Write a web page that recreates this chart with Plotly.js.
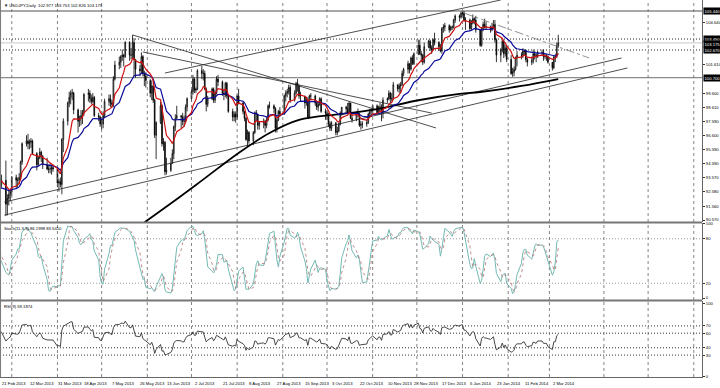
<!DOCTYPE html>
<html><head><meta charset="utf-8">
<script src="https://cdn.plot.ly/plotly-3.0.1.min.js"></script>
<style>html,body{margin:0;padding:0;background:#fff;}#chart{width:720px;height:388px;}</style>
</head><body><div id="chart"></div>
<script>
// ---------------- DATA ----------------
const firstDay = '2013-01-28', lastDay = '2014-03-07';   // daily bars, weekdays
// one row per week (Mon..Fri)
const open = [
90.8,90.9,90.6,91.1,91.7, 92.7,92.3,93.6,93.6,93.6, 92.6,94.2,93.5,93.4,92.8, 93.5,93.9,93.6,93.5,93.1,
93.4,91.7,92.1,92.4,92.6, 93.6,93.4,93.4,93.6,94.7, 96.0,96.2,96.0,96.1,96.2, 95.3,94.5,95.0,95.4,95.1,
94.5,94.2,94.2,94.2,94.3, 94.2,93.2,93.3,93.1,96.3, 97.6,98.9,99.3,99.6,99.6, 98.4,97.6,97.8,98.0,98.2,
99.5,99.6,99.2,99.0,99.3, 98.0,97.9,97.4,97.4,98.0, 99.0,99.2,98.9,98.8,100.6, 101.6,101.8,102.2,102.3,102.2,
103.2,102.3,102.3,103.2,102.0, 101.3,101.2,102.2,101.0,100.8, 100.5,99.6,100.1,99.1,96.6, 97.5,98.7,96.0,96.1,94.0,
94.1,94.6,95.3,97.2,97.8, 98.0,97.9,97.6,97.6,98.6, 99.2,99.7,100.6,99.8,99.9, 101.2,101.0,101.0,99.9,98.8,
99.2,99.9,99.1,99.6,100.6, 100.4,99.6,99.5,100.3,99.4, 98.3,97.9,98.1,97.9,99.4, 98.9,98.3,97.8,96.3,96.8,
96.2,96.8,98.2,98.1,97.3, 97.5,97.6,97.3,97.7,98.7, 98.7,98.5,97.1,97.7,98.3, 98.1,99.4,99.6,99.7,100.0,
99.1,99.6,100.3,100.1,99.4, 99.4,98.9,99.1,97.9,99.4, 99.4,98.9,98.6,98.8,99.2, 98.3,98.2,98.0,97.4,97.1,
97.5,96.8,96.9,97.4,98.2, 98.6,98.5,98.2,98.9,97.8, 97.7,98.2,98.1,97.3,97.4, 97.4,97.5,98.1,98.3,98.4,
98.7,98.2,98.6,98.6,98.2, 99.1,99.2,99.6,99.2,99.2, 100.2,99.9,100.1,100.2,101.0, 101.3,101.7,101.3,102.1,101.7,
102.4,103.0,102.4,102.3,101.8, 102.9,103.3,102.8,102.7,103.4, 103.2,102.9,102.6,104.2,104.3, 104.4,104.1,104.3,104.3,104.8,
105.1,105.0,105.3,105.3,104.8, 104.8,104.2,104.6,104.9,104.8, 104.1,103.0,104.2,104.5,104.3, 104.3,104.1,104.3,104.5,103.4,
102.3,102.7,103.3,102.4,102.8, 102.0,101.0,101.1,101.3,102.1, 102.3,102.3,102.6,102.6,102.0, 101.8,101.9,102.4,102.3,102.2,
102.5,102.5,102.2,102.2,102.2, 101.8,101.4,102.2,102.2,102.977];
const high = [
91.2,91.0,91.4,91.8,92.8, 92.8,93.6,94.0,94.1,93.9, 94.5,94.4,93.8,93.6,93.6, 94.2,94.1,94.0,93.6,93.8,
94.8,92.4,92.7,92.8,93.7, 93.8,93.6,93.9,94.8,96.1, 96.6,96.7,96.3,96.4,96.3, 95.4,95.1,95.7,95.5,95.2,
95.0,94.5,94.6,94.5,94.4, 94.2,93.5,93.6,96.4,97.8, 99.0,99.7,99.8,99.9,99.7, 98.5,98.0,98.4,98.4,99.6,
99.9,99.8,99.5,99.6,99.4, 98.2,98.0,97.8,98.3,99.2, 99.5,99.5,99.1,100.8,101.9, 102.2,102.3,102.7,102.4,103.3,
103.3,102.8,103.74,103.5,102.0, 101.6,102.5,102.3,101.2,101.1, 100.6,100.5,100.2,99.2,97.6, 99.0,98.8,96.4,96.2,95.0,
95.0,95.6,97.3,98.1,98.7, 98.0,98.2,98.0,98.8,99.3, 99.9,100.9,100.7,100.0,101.3, 101.54,101.3,101.2,100.0,99.4,
100.0,100.0,99.8,100.8,100.9, 100.5,99.9,100.4,100.4,99.5, 98.5,98.3,98.3,99.5,99.9, 99.0,98.3,97.9,97.0,96.9,
96.9,98.3,98.4,98.1,97.6, 97.8,97.7,97.9,98.8,99.0, 98.8,98.6,97.8,98.4,98.6, 99.5,99.8,99.9,100.2,100.2,
99.8,100.4,100.6,100.2,99.7, 99.4,99.3,99.3,99.5,99.6, 99.5,99.0,98.9,99.3,99.3, 98.5,98.4,98.2,97.6,97.6,
97.5,97.2,97.5,98.3,98.6, 98.7,98.9,99.0,98.9,98.1, 98.3,98.5,98.2,97.6,97.6, 97.7,98.2,98.5,98.5,98.8,
98.8,98.7,98.9,98.8,99.3, 99.3,99.8,99.7,99.6,100.4, 100.2,100.3,100.4,101.2,101.4, 101.9,101.7,102.2,102.3,102.5,
103.4,103.4,102.6,102.4,103.2, 103.4,103.4,103.0,103.5,103.9, 103.3,103.1,104.3,104.5,104.6, 104.5,104.4,104.4,104.9,105.2,
105.2,105.4,105.4,105.44,105.0, 104.9,104.8,105.2,105.0,105.1, 104.1,104.3,104.7,104.9,104.7, 104.4,104.6,104.8,104.8,103.5,
102.8,103.4,103.4,103.0,103.0, 102.3,101.4,101.5,102.2,102.6, 102.5,102.8,102.7,102.7,102.1, 102.2,102.7,102.6,102.4,102.6,
102.7,102.7,102.4,102.4,102.3, 101.8,102.2,102.4,103.2,103.753];
const low = [
90.2,90.3,90.4,90.6,91.6, 91.9,92.1,93.2,93.3,92.3, 92.3,93.2,92.9,92.3,92.2, 93.4,93.4,93.2,92.7,92.9,
90.85,90.9,91.6,91.9,92.3, 92.8,92.9,93.1,93.5,94.5, 95.8,95.6,95.6,95.7,95.2, 94.1,94.4,94.9,94.7,94.2,
94.1,93.9,93.9,93.8,94.0, 92.9,92.6,92.9,92.4,95.4, 97.3,98.6,98.8,99.1,98.1, 96.8,97.2,97.3,97.4,98.0,
99.0,98.9,98.8,98.9,97.9, 97.6,97.2,97.0,97.1,97.9, 98.7,98.6,98.6,98.6,100.5, 101.3,101.4,101.9,101.5,102.1,
101.9,102.0,102.1,100.8,100.7, 100.8,101.0,100.8,100.1,100.0, 99.3,99.1,98.9,96.4,94.9, 97.4,95.8,95.5,93.75,93.8,
94.0,94.6,94.9,96.9,97.7, 97.1,97.3,97.2,97.5,98.3, 99.0,99.5,99.6,99.6,99.8, 100.6,100.5,99.8,98.3,98.6,
99.1,98.9,98.9,99.5,100.1, 99.4,99.1,99.3,99.2,98.2, 97.6,97.6,97.5,97.7,98.8, 98.1,97.6,96.2,95.8,96.0,
95.9,96.7,97.6,97.0,97.0, 97.1,96.8,97.1,97.6,98.5, 98.2,96.8,96.8,97.6,97.9, 98.1,99.0,99.3,99.5,98.9,
99.0,99.5,99.7,99.2,99.0, 98.5,98.7,97.8,97.8,99.1, 98.7,98.4,98.3,98.7,98.2, 97.7,97.7,97.2,96.9,96.9,
96.6,96.6,96.8,97.3,98.0, 98.2,98.1,98.1,97.8,97.5, 97.6,97.9,97.2,97.0,97.1, 97.2,97.4,97.9,97.9,98.2,
98.1,98.1,98.4,97.6,97.8, 98.9,99.1,98.9,99.0,99.1, 99.7,99.6,99.6,100.1,100.8, 101.0,101.0,101.2,101.6,101.6,
102.3,102.3,101.8,101.6,101.7, 102.8,102.6,102.4,102.6,103.0, 102.6,102.5,102.4,103.9,104.0, 103.9,104.0,104.1,104.2,104.6,
104.7,104.9,105.1,104.7,104.1, 104.0,104.1,104.5,104.5,103.9, 102.9,102.9,104.0,104.2,104.1, 103.9,104.0,104.2,103.2,101.8,
101.8,102.5,102.1,102.2,101.8, 100.9,100.76,100.8,101.2,101.5, 102.0,102.1,102.3,101.8,101.5, 101.6,101.7,102.0,101.8,102.1,
102.3,101.9,102.0,101.9,101.7, 101.2,101.3,101.8,102.1,102.826];
const close = [
90.9,90.6,91.1,91.7,92.7, 92.3,93.6,93.6,93.6,92.6, 94.2,93.5,93.4,92.8,93.5, 93.9,93.6,93.5,93.1,93.4,
91.7,92.1,92.4,92.6,93.6, 93.4,93.4,93.6,94.7,96.0, 96.2,96.0,96.1,96.2,95.3, 94.5,95.0,95.4,95.1,94.5,
94.2,94.2,94.2,94.3,94.2, 93.2,93.3,93.1,96.3,97.6, 98.9,99.3,99.6,99.6,98.4, 97.6,97.8,98.0,98.2,99.5,
99.6,99.2,99.0,99.3,98.0, 97.9,97.4,97.4,98.0,99.0, 99.2,98.9,98.8,100.6,101.6, 101.8,102.2,102.3,102.2,103.2,
102.3,102.3,103.2,102.0,101.3, 101.2,102.2,101.0,100.8,100.5, 99.6,100.1,99.1,96.6,97.5, 98.7,96.0,96.1,94.0,94.1,
94.6,95.3,97.2,97.8,98.0, 97.9,97.6,97.6,98.6,99.2, 99.7,100.6,99.8,99.9,101.2, 101.0,101.0,99.9,98.8,99.2,
99.9,99.1,99.6,100.6,100.4, 99.6,99.5,100.3,99.4,98.3, 97.9,98.1,97.9,99.4,98.9, 98.3,97.8,96.3,96.8,96.2,
96.8,98.2,98.1,97.3,97.5, 97.6,97.3,97.7,98.7,98.7, 98.5,97.1,97.7,98.3,98.1, 99.4,99.6,99.7,100.0,99.1,
99.6,100.3,100.1,99.4,99.4, 98.9,99.1,97.9,99.4,99.4, 98.9,98.6,98.8,99.2,98.3, 98.2,98.0,97.4,97.1,97.5,
96.8,96.9,97.4,98.2,98.6, 98.5,98.2,98.9,97.8,97.7, 98.2,98.1,97.3,97.4,97.4, 97.5,98.1,98.3,98.4,98.7,
98.2,98.6,98.6,98.2,99.1, 99.2,99.6,99.2,99.2,100.2, 99.9,100.1,100.2,101.0,101.3, 101.7,101.3,102.1,101.7,102.4,
103.0,102.4,102.3,101.8,102.9, 103.3,102.8,102.7,103.4,103.2, 102.9,102.6,104.2,104.3,104.4, 104.1,104.3,104.3,104.8,105.1,
105.0,105.3,105.3,104.8,104.8, 104.2,104.6,104.9,104.8,104.1, 103.0,104.2,104.5,104.3,104.3, 104.1,104.3,104.5,103.4,102.3,
102.7,103.3,102.4,102.8,102.0, 101.0,101.1,101.3,102.1,102.3, 102.3,102.6,102.6,102.0,101.8, 101.9,102.4,102.3,102.2,102.5,
102.5,102.2,102.2,102.2,101.8, 101.4,102.2,102.2,102.977,103.175];

// black slow moving average
const slowMaDates = ['2013-05-30','2013-06-03','2013-07-04','2013-08-02','2013-08-23','2013-09-12','2013-10-10','2013-11-01','2013-12-03','2013-12-30','2014-01-13','2014-02-10','2014-03-07'];
const slowMaVals  = [90.40, 90.69, 93.06, 95.34, 96.76, 97.69, 98.11, 98.40, 99.11, 99.54, 99.68, 100.11, 100.60];

// hand-drawn trend lines (start/end date, start/end price)
const trendDates = [['2013-05-22','2013-12-14'],['2013-05-29','2013-12-11'],['2013-06-13','2014-01-27'],['2013-02-24','2014-04-19'],['2013-02-24','2014-04-23']];
const trendPrices = [[103.74,97.12],[102.53,98.18],[101.03,106.23],[91.85,102.10],[90.92,101.39]];
const dashDates = ['2014-01-02','2014-03-28'];
const dashPrices = [105.30, 102.10];

// horizontal levels
const levelPrices = [105.44, 103.45, 102.67, 100.70];
const levelLabels = ['105.440','103.450','102.670','100.700'];
const currentPrice = 103.175;

// axis ticks
const priceTicks = [90.570,91.560,92.580,93.570,94.590,95.590,96.600,97.590,98.610,99.600,101.610,104.640];
const stochTicks = [0,20,80,100];
const rsiTicks = [0,30,40,60,70,100];
const dateLabelDates = ['2013-02-21','2013-03-12','2013-03-31','2013-04-18','2013-05-07','2013-05-26','2013-06-13','2013-07-02','2013-07-21','2013-08-08','2013-08-27','2013-09-15','2013-10-03','2013-10-22','2013-11-10','2013-11-28','2013-12-17','2014-01-05','2014-01-23','2014-02-11','2014-03-02'];
const dateLabelTexts = ['21 Feb 2013','12 Mar 2013','31 Mar 2013','18 Apr 2013','7 May 2013','26 May 2013','13 Jun 2013','2 Jul 2013','21 Jul 2013','8 Aug 2013','27 Aug 2013','15 Sep 2013','3 Oct 2013','22 Oct 2013','10 Nov 2013','28 Nov 2013','17 Dec 2013','5 Jan 2014','23 Jan 2014','11 Feb 2014','2 Mar 2014'];

// ---------------- HELPERS ----------------
function tradingDays(a, b){
  const out=[]; let d=new Date(a+'T00:00:00Z'); const e=new Date(b+'T00:00:00Z');
  while(d<=e){ const w=d.getUTCDay(); if(w!==0&&w!==6) out.push(d.toISOString().slice(0,10)); d=new Date(d.getTime()+86400000); }
  return out;
}
const dates = tradingDays(firstDay, lastDay);
function ema(arr,n){const k=2/(n+1);const o=[];let e=arr[0];arr.forEach((v,i)=>{e=i?v*k+e*(1-k):v;o.push(e);});return o;}
function stoch(h,l,c,kp,slow,dp){
  const K=[],D=[];
  for(let i=0;i<c.length;i++){
    if(i<kp+slow-2){K.push(null);continue;}
    let num=0,den=0;
    for(let j=i-slow+1;j<=i;j++){let hh=-1e9,ll=1e9;for(let m=j-kp+1;m<=j;m++){hh=Math.max(hh,h[m]);ll=Math.min(ll,l[m]);}num+=c[j]-ll;den+=hh-ll;}
    K.push(den?100*num/den:50);
  }
  for(let i=0;i<K.length;i++){ if(i<dp-1||K[i-dp+1]==null){D.push(null);continue;} let s=0;for(let j=i-dp+1;j<=i;j++)s+=K[j];D.push(s/dp);}
  return [K,D];
}
function rsi(c,n){
  const o=[null];let ag=0,al=0;
  for(let i=1;i<c.length;i++){const ch=c[i]-c[i-1];const g=Math.max(ch,0),ls=Math.max(-ch,0);
    if(i<=n){ag+=g/n;al+=ls/n;o.push(i===n?100-100/(1+ag/(al||1e-9)):null);}
    else{ag=(ag*(n-1)+g)/n;al=(al*(n-1)+ls)/n;o.push(100-100/(1+ag/(al||1e-9)));}}
  return o;
}
const fastMa = ema(close,9), midMa = ema(close,21);
const [stK, stD] = stoch(high,low,close,11,3,3);
const rsiV = rsi(close,14);

// ---------------- LAYOUT CONSTANTS ----------------
const F = 'Liberation Sans, Arial, sans-serif';
const gridDates = ['2013-03-01','2013-04-01','2013-05-01','2013-06-01','2013-07-01','2013-08-01','2013-09-01','2013-10-01','2013-11-01','2013-12-01','2014-01-01','2014-02-01','2014-03-01','2014-04-07','2014-05-07','2014-06-07'];
const panelRanges = {y:[90.427,106.227], y2:[-2.7,101.35], y3:[0,104.1]};

// ---------------- TRACES ----------------
const traces = [];
// vertical dotted grid, one trace per panel
Object.keys(panelRanges).forEach(ax=>{
  const gx=[],gy=[]; const r=panelRanges[ax];
  gridDates.forEach(d=>{gx.push(d,d,null);gy.push(r[0],r[1],null);});
  traces.push({type:'scatter',mode:'lines',x:gx,y:gy,yaxis:ax,line:{color:'#666',width:0.8,dash:'dot'},hoverinfo:'skip',connectgaps:false});
});
trendDates.forEach((td,i)=>traces.push({type:'scatter',mode:'lines',x:td,y:trendPrices[i],line:{color:'#222',width:0.8},hoverinfo:'skip'}));
traces.push({type:'scatter',mode:'lines',x:dashDates,y:dashPrices,line:{color:'#777',width:0.8,dash:'dashdot'},hoverinfo:'skip'});
traces.push({type:'candlestick',x:dates,open:open,high:high,low:low,close:close,
  increasing:{line:{color:'#000',width:0.8},fillcolor:'#fff'},decreasing:{line:{color:'#000',width:0.8},fillcolor:'#000'},whiskerwidth:0});
traces.push({type:'scatter',mode:'lines',x:slowMaDates,y:slowMaVals,line:{color:'#000',width:1.8,shape:'spline'}});
traces.push({type:'scatter',mode:'lines',x:dates,y:midMa,line:{color:'#0a0a9a',width:1.2}});
traces.push({type:'scatter',mode:'lines',x:dates,y:fastMa,line:{color:'#d01010',width:1.2}});
traces.push({type:'scatter',mode:'lines',x:dates,y:stK,yaxis:'y2',line:{color:'#74bab4',width:1}});
traces.push({type:'scatter',mode:'lines',x:dates,y:stD,yaxis:'y2',line:{color:'#b07070',width:0.8,dash:'dot'}});
traces.push({type:'scatter',mode:'lines',x:dates,y:rsiV,yaxis:'y3',line:{color:'#333',width:0.9}});

// ---------------- LAYOUT ----------------
const shapes = [];
const lvlStyle = [{color:'#8a8a8a',width:1.4,dash:'solid'},{color:'#222',width:1,dash:'1px,2px'},{color:'#222',width:1,dash:'1px,2px'},{color:'#8a8a8a',width:1.4,dash:'solid'}];
levelPrices.forEach((p,i)=>shapes.push({type:'line',xref:'paper',yref:'y',x0:0,x1:1,y0:p,y1:p,line:lvlStyle[i],layer:'below'}));
shapes.push({type:'line',xref:'paper',yref:'y',x0:0,x1:1,y0:currentPrice,y1:currentPrice,line:{color:'#c8c8c8',width:1},layer:'below'});
[20,80].forEach(v=>shapes.push({type:'line',xref:'paper',yref:'y2',x0:0,x1:1,y0:v,y1:v,line:{color:'#999',width:1,dash:'1px,2px'},layer:'below'}));
[30,40,60,70].forEach(v=>shapes.push({type:'line',xref:'paper',yref:'y3',x0:0,x1:1,y0:v,y1:v,line:{color:'#333',width:1,dash:'1px,2px'},layer:'below'}));
[0.4098,0.2029].forEach(v=>shapes.push({type:'line',xref:'paper',yref:'paper',x0:0,x1:1,y0:v,y1:v,line:{color:'#777',width:2.2}}));
shapes.push({type:'line',xref:'paper',yref:'paper',x0:0.0008,x1:0.0008,y0:0,y1:1,line:{color:'#777',width:1}});

const ann = [];
ann.push({xref:'paper',yref:'paper',x:0.003,y:0.998,xanchor:'left',yanchor:'top',showarrow:false,text:'▼ USDJPY,Daily  102.977 103.753 102.826 103.175',font:{family:F,size:4.2,color:'#000'}});
ann.push({xref:'paper',yref:'paper',x:0.003,y:0.405,xanchor:'left',yanchor:'top',showarrow:false,text:'Stoch(11,3,3) 86.1998 83.5410',font:{family:F,size:4.2,color:'#000'}});
ann.push({xref:'paper',yref:'paper',x:0.003,y:0.199,xanchor:'left',yanchor:'top',showarrow:false,text:'RSI(9) 59.1874',font:{family:F,size:4.2,color:'#000'}});
dateLabelDates.forEach((d,i)=>ann.push({xref:'x',yref:'paper',x:d,y:0,xanchor:'left',yanchor:'middle',yshift:-6,showarrow:false,text:dateLabelTexts[i],font:{family:F,size:4.2,color:'#000'}}));
levelPrices.forEach((p,i)=>ann.push({xref:'paper',yref:'y',x:1,y:p,xanchor:'left',yanchor:'middle',xshift:1,showarrow:false,text:levelLabels[i],bgcolor:'#000',borderpad:0.5,font:{family:F,size:4.2,color:'#fff'}}));
ann.push({xref:'paper',yref:'y',x:1,y:currentPrice,xanchor:'left',yanchor:'middle',xshift:1,yshift:-1,showarrow:false,text:currentPrice.toFixed(3),bgcolor:'#000',borderpad:0.5,font:{family:F,size:4.2,color:'#fff'}});

const yCommon = {side:'right',ticks:'outside',ticklen:2,tickcolor:'#333',showgrid:false,showline:true,linecolor:'#666',linewidth:1,zeroline:false,fixedrange:true,tickfont:{family:F,size:4.2,color:'#000'},anchor:'x'};
const layout = {
  width:720,height:388,margin:{l:0,r:18,t:0,b:11},paper_bgcolor:'#fff',plot_bgcolor:'#fff',showlegend:false,
  xaxis:{type:'date',range:['2013-02-21','2014-06-12 14:00'],anchor:'y3',showticklabels:false,ticks:'',
    showgrid:false,showline:true,linecolor:'#666',zeroline:false,rangeslider:{visible:false},fixedrange:true},
  yaxis:Object.assign({},yCommon,{domain:[0.4111,1],range:panelRanges.y,tickmode:'array',tickvals:priceTicks,tickformat:'.3f'}),
  yaxis2:Object.assign({},yCommon,{domain:[0.2042,0.4085],range:panelRanges.y2,tickmode:'array',tickvals:stochTicks}),
  yaxis3:Object.assign({},yCommon,{domain:[0,0.2016],range:panelRanges.y3,tickmode:'array',tickvals:rsiTicks}),
  shapes:shapes,annotations:ann,hovermode:false
};
Plotly.newPlot('chart',traces,layout,{staticPlot:true,displayModeBar:false});
</script></body></html>
